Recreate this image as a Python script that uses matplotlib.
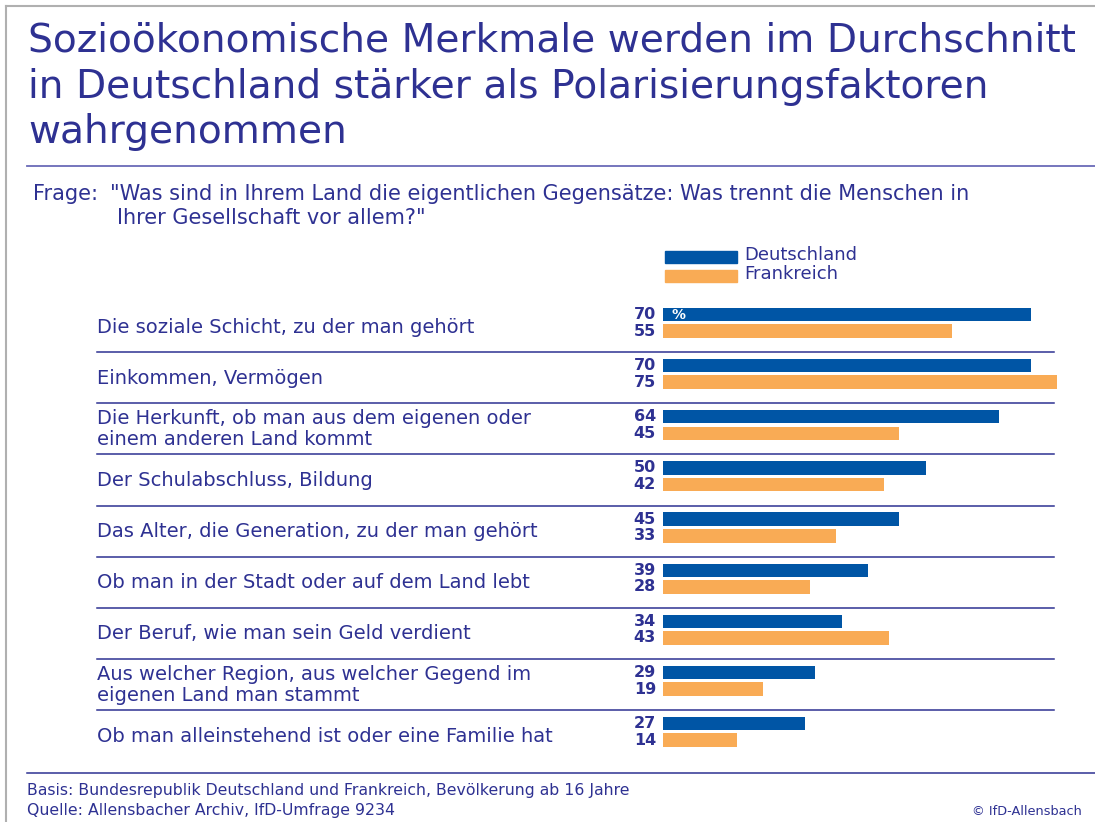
import numpy as np
import matplotlib.pyplot as plt
import matplotlib.transforms as mtransforms
from matplotlib.patches import Rectangle

# Daten
kategorien = ["Die soziale Schicht, zu der man gehört",
              "Einkommen, Vermögen",
              "Die Herkunft, ob man aus dem eigenen oder\neinem anderen Land kommt",
              "Der Schulabschluss, Bildung",
              "Das Alter, die Generation, zu der man gehört",
              "Ob man in der Stadt oder auf dem Land lebt",
              "Der Beruf, wie man sein Geld verdient",
              "Aus welcher Region, aus welcher Gegend im\neigenen Land man stammt",
              "Ob man alleinstehend ist oder eine Familie hat"]
deutschland = [70, 70, 64, 50, 45, 39, 34, 29, 27]
frankreich = [55, 75, 45, 42, 33, 28, 43, 19, 14]

blau = "#0055A5"
orange = "#F9AB55"
text_c = "#2E3192"
font = "DejaVu Sans"

W, H = 1095, 822
fig = plt.figure(figsize=(W/100, H/100), dpi=100)

def fx(px):
    return px / W

def fy(py):
    return 1 - py / H

# Rahmen links/oben
fig.add_artist(plt.Line2D([fx(6), fx(6)], [fy(6), 0], color="#b0b0b0", lw=1.5))
fig.add_artist(plt.Line2D([fx(6), 1], [fy(6), fy(6)], color="#b0b0b0", lw=1.5))

# Titel
titel = ["Sozioökonomische Merkmale werden im Durchschnitt",
         "in Deutschland stärker als Polarisierungsfaktoren",
         "wahrgenommen"]
for i, t in enumerate(titel):
    fig.text(fx(28), fy(41 + 45.5*i), t, fontsize=28.2, color=text_c, va="center", family=font)
fig.add_artist(plt.Line2D([fx(27), 1], [fy(166), fy(166)], color="#6a6ab8", lw=1.3))

# Frage
fig.text(fx(33), fy(194), 'Frage:', fontsize=15, color=text_c, va="center", family=font)
fig.text(fx(110), fy(194), '"Was sind in Ihrem Land die eigentlichen Gegensätze: Was trennt die Menschen in',
         fontsize=15, color=text_c, va="center", family=font)
fig.text(fx(117), fy(218), 'Ihrer Gesellschaft vor allem?"', fontsize=15, color=text_c, va="center", family=font)

# Legende
fig.add_artist(Rectangle((fx(665), fy(263)), fx(72), 12/H, color=blau))
fig.add_artist(Rectangle((fx(665), fy(282)), fx(72), 12/H, color=orange))
fig.text(fx(744), fy(255), "Deutschland", fontsize=13, color=text_c, va="center", family=font)
fig.text(fx(744), fy(274), "Frankreich", fontsize=13, color=text_c, va="center", family=font)

# Balken
x0, x1 = 663, 1057
y_top, y_bot = 297.5, 757.5
ax = fig.add_axes([fx(x0), fy(y_bot), (x1 - x0)/W, (y_bot - y_top)/H])
ax.set_xlim(0, 75)
ax.set_ylim(len(kategorien) - 0.5, -0.5)
ax.axis("off")

y = np.arange(len(kategorien))
ax.barh(y - 0.165, deutschland, height=0.26, color=blau)
ax.barh(y + 0.16, frankreich, height=0.27, color=orange)

trans = mtransforms.blended_transform_factory(fig.transFigure, ax.transData)
for i, k in enumerate(kategorien):
    ax.text(fx(97), i + 0.08, k, transform=trans, fontsize=14, color=text_c, va="center",
            linespacing=1.13, family=font)
    ax.text(fx(656), i - 0.165, str(deutschland[i]), transform=trans, fontsize=11.5,
            fontweight="bold", color=text_c, va="center", ha="right", family=font)
    ax.text(fx(656), i + 0.16, str(frankreich[i]), transform=trans, fontsize=11.5,
            fontweight="bold", color=text_c, va="center", ha="right", family=font)
    if i < len(kategorien) - 1:
        ax.plot([fx(97), fx(1054)], [i + 0.57, i + 0.57], transform=trans, color=text_c,
                lw=1.1, clip_on=False)
ax.text(fx(671), -0.165, "%", transform=trans, fontsize=10, fontweight="bold",
        color="white", va="center", family=font)

# Fuß
fig.add_artist(plt.Line2D([fx(27), 1], [fy(773), fy(773)], color=text_c, lw=1.1))
fig.text(fx(27), fy(790), "Basis: Bundesrepublik Deutschland und Frankreich, Bevölkerung ab 16 Jahre",
         fontsize=11.3, color=text_c, va="center", family=font)
fig.text(fx(27), fy(810), "Quelle: Allensbacher Archiv, IfD-Umfrage 9234",
         fontsize=11.3, color=text_c, va="center", family=font)
fig.text(fx(1082), fy(811), "© IfD-Allensbach", fontsize=9.3, color=text_c, va="center",
         ha="right", family=font)

fig.savefig("out.png", dpi=100)
